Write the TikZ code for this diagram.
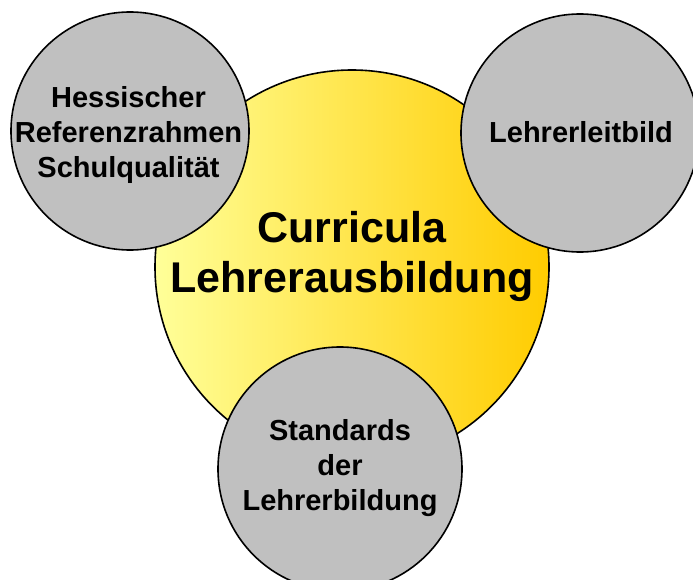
\documentclass[tikz,border=0pt]{standalone}
\usepackage{fontspec}
\setmainfont{Liberation Sans}
\usepackage{tikz}
\usetikzlibrary{calc}

\definecolor{lightyellow}{RGB}{255,255,153}
\definecolor{darkgold}{RGB}{255,204,0}
\definecolor{circlegray}{RGB}{192,192,192}

\begin{document}
\begin{tikzpicture}[x=1pt,y=-1pt]
    \tikzstyle{main circle}=[circle,draw,line width=1.6pt,inner sep=0,minimum size=394pt,left color=lightyellow,right color=darkgold]
    \tikzstyle{side circle}=[circle,draw,line width=1.6pt,inner sep=0,minimum size=238pt,fill=circlegray]
    \tikzstyle{big text}=[align=center,inner sep=0,font=\fontsize{43}{50}\selectfont\bfseries]
    \tikzstyle{small text}=[align=center,inner sep=0,font=\fontsize{29}{35}\selectfont\bfseries]

    \useasboundingbox (0,0) rectangle (693,580);

    % central circle
    \node(curr)[main circle] at (352,267){};
    \node(currtext)[big text] at (352,256){Curricula\\Lehrerausbildung};

    % three circles around it
    \node(ref)[side circle] at (130,131){};
    \node(reftext)[small text] at (128.5,135){Hessischer\\Referenzrahmen\\Schulqualit\"at};

    \node(leit)[side circle] at (580,133){};
    \node(leittext)[small text] at (581,132.5){Lehrerleitbild};

    \node(std)[side circle,minimum size=244pt] at (340,469){};
    \node(stdtext)[small text] at (340,468.5){Standards\\der\\Lehrerbildung};
\end{tikzpicture}
\end{document}
